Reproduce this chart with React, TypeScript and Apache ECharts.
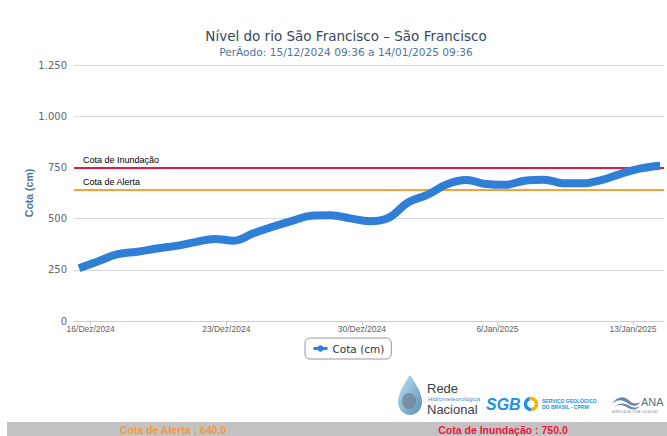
import React, { useEffect, useRef } from "react";
import * as echarts from "echarts";

const times = [
  "2024-12-15T09:36:00Z", "2024-12-16T09:36:00Z", "2024-12-17T09:36:00Z", "2024-12-18T09:36:00Z",
  "2024-12-19T09:36:00Z", "2024-12-20T09:36:00Z", "2024-12-21T09:36:00Z", "2024-12-22T09:36:00Z",
  "2024-12-23T09:36:00Z", "2024-12-24T09:36:00Z", "2024-12-25T09:36:00Z", "2024-12-26T09:36:00Z",
  "2024-12-27T09:36:00Z", "2024-12-28T09:36:00Z", "2024-12-29T09:36:00Z", "2024-12-30T09:36:00Z",
  "2024-12-31T09:36:00Z", "2025-01-01T09:36:00Z", "2025-01-02T09:36:00Z", "2025-01-03T09:36:00Z",
  "2025-01-04T09:36:00Z", "2025-01-05T09:36:00Z", "2025-01-06T09:36:00Z", "2025-01-07T09:36:00Z",
  "2025-01-08T09:36:00Z", "2025-01-09T09:36:00Z", "2025-01-10T09:36:00Z", "2025-01-11T09:36:00Z",
  "2025-01-12T09:36:00Z", "2025-01-13T09:36:00Z", "2025-01-14T09:36:00Z",
];
const cota = [
  257, 292, 326, 338, 354, 367, 385, 401, 392, 428, 460, 489, 514, 516, 501, 487,
  505, 580, 617, 668, 688, 669, 665, 685, 690, 673, 672, 689, 720, 745, 758,
];
const tickDates = [
  "2024-12-16T00:00:00Z", "2024-12-23T00:00:00Z", "2024-12-30T00:00:00Z",
  "2025-01-06T00:00:00Z", "2025-01-13T00:00:00Z",
];
const tickLabels = ["16/Dez/2024", "23/Dez/2024", "30/Dez/2024", "6/Jan/2025", "13/Jan/2025"];
const cotaAlerta = 640;
const cotaInundacao = 750;
const yMin = 0;
const yMax = 1250;
const yStep = 250;

const DAY = 86400000;

export default function App() {
  const ref = useRef<HTMLDivElement>(null);
  useEffect(() => {
    if (!ref.current) return;
    echarts.graphic.registerShape(
      "drop",
      echarts.graphic.extendPath(
        "M12,0 C12,0 0,16 0,27 C0,34 5.4,40 12,40 C18.6,40 24,34 24,27 C24,16 12,0 12,0 Z",
        {}
      )
    );
    echarts.graphic.registerShape(
      "wave",
      echarts.graphic.extendPath(
        "M0,12 C6,2 12,2 18,9 C22,13 26,12 28,10 C26,16 20,16 15,11 C10,6 5,7 0,12 Z M2,16 C8,10 13,11 18,15 C22,18 26,17 28,15 C25,21 19,20 14,16 C10,13 6,13 2,16 Z",
        {}
      )
    );
    const chart = echarts.init(ref.current, null, { renderer: "svg" });
    const tickTs = tickDates.map((d) => Date.parse(d));
    const ts = times.map((d) => Date.parse(d));
    const fmtY = (v: number) =>
      v >= 1000 ? Math.floor(v / 1000) + "." + String(v % 1000).padStart(3, "0") : String(v);
    const narrow = "'Liberation Sans Narrow', 'Liberation Sans', sans-serif";
    chart.setOption({
      animation: false,
      title: {
        text: "Nível do rio São Francisco – São Francisco",
        subtext: "PerÃodo: 15/12/2024 09:36 a 14/01/2025 09:36",
        left: 341,
        textAlign: "center",
        top: 24,
        itemGap: 3,
        textStyle: {
          fontFamily: "DejaVu Sans",
          fontSize: 13.5,
          fontWeight: "normal",
          color: "#34495e",
        },
        subtextStyle: {
          fontFamily: "DejaVu Sans",
          fontSize: 10.6,
          color: "#4d759e",
        },
      },
      legend: {
        left: 305,
        top: 338,
        padding: [5, 7, 5, 7],
        borderColor: "#999",
        borderWidth: 1,
        borderRadius: 5,
        itemWidth: 14,
        itemHeight: 8,
        textStyle: { fontFamily: "DejaVu Sans", fontSize: 10.5, color: "#333" },
        lineStyle: { width: 3 },
        data: ["Cota (cm)"],
      },
      grid: { left: 74, right: 3, top: 65, bottom: 115, containLabel: false },
      xAxis: {
        type: "value",
        min: ts[0] - 0.26 * DAY,
        max: ts[ts.length - 1] + 0.2 * DAY,
        axisLine: { show: true, onZero: false, lineStyle: { color: "#c0d0e0", width: 1 } },
        axisTick: { show: true, customValues: tickTs, length: 5, lineStyle: { color: "#c0d0e0" } },
        splitLine: { show: false },
        axisLabel: {
          customValues: tickTs,
          color: "#606060",
          fontSize: 8.5,
          fontFamily: narrow,
          margin: 3,
          formatter: (v: number) => {
            const i = tickTs.indexOf(v);
            return i >= 0 ? tickLabels[i] : "";
          },
        },
      },
      yAxis: {
        type: "value",
        min: yMin,
        max: yMax,
        interval: yStep,
        name: "Cota (cm)",
        nameLocation: "middle",
        nameGap: 40,
        nameMoveOverlap: false,
        nameTextStyle: {
          fontFamily: "Liberation Sans",
          fontWeight: "bold",
          fontSize: 10.5,
          color: "#4d759e",
        },
        axisLine: { show: false },
        axisTick: { show: false },
        splitLine: { lineStyle: { color: "#d8d8d8", width: 1 } },
        axisLabel: {
          color: "#666",
          fontFamily: "DejaVu Sans",
          fontSize: 10,
          margin: 7,
          formatter: fmtY,
        },
      },
      series: [
        {
          name: "Cota (cm)",
          type: "line",
          data: ts.map((t, i) => [t, cota[i]]),
          smooth: 0.4,
          symbol: "circle",
          symbolSize: 8,
          showSymbol: false,
          lineStyle: { color: "#2f7ed8", width: 8 },
          itemStyle: { color: "#2f7ed8" },
          z: 3,
          markLine: {
            silent: true,
            symbol: "none",
            z: 2,
            data: [
              {
                yAxis: cotaInundacao,
                name: "Cota de Inundação",
                lineStyle: { color: "#e8173e", width: 2, type: "solid" },
              },
              {
                yAxis: cotaAlerta,
                name: "Cota de Alerta",
                lineStyle: { color: "#f7a040", width: 2, type: "solid" },
              },
            ],
            label: {
              show: true,
              position: "insideStartTop",
              formatter: "{b}",
              fontFamily: "Liberation Sans",
              fontSize: 9,
              color: "#000",
              distance: [9, 3],
            },
          },
        },
      ],
      graphic: [
        {
          type: "rect",
          shape: { x: 7, y: 422, width: 660, height: 14 },
          style: { fill: "#c3c3c3" },
          silent: true,
        },
        {
          type: "text",
          x: 173,
          y: 430,
          style: {
            text: "Cota de Alerta : " + cotaAlerta.toFixed(1),
            fill: "#f5993b",
            font: "bold 10.5px " + narrow,
            align: "center",
            verticalAlign: "middle",
          },
        },
        {
          type: "text",
          x: 503,
          y: 430,
          style: {
            text: "Cota de Inundação : " + cotaInundacao.toFixed(1),
            fill: "#f0163f",
            font: "bold 10.5px " + narrow,
            align: "center",
            verticalAlign: "middle",
          },
        },
        {
          type: "drop",
          x: 398,
          y: 375,
          style: {
            fill: new echarts.graphic.LinearGradient(0, 0, 1, 1, [
              { offset: 0, color: "#bfe3f7" },
              { offset: 1, color: "#5a8fb8" },
            ]),
          },
        },
        {
          type: "ellipse",
          shape: { cx: 409, cy: 401, rx: 7, ry: 8 },
          style: { fill: "#6d7f8f", opacity: 0.7 },
        },
        {
          type: "text",
          x: 427,
          y: 388,
          style: {
            text: "Rede",
            fill: "#3a3f45",
            font: "13px " + narrow,
            verticalAlign: "middle",
          },
        },
        {
          type: "text",
          x: 428,
          y: 399,
          style: {
            text: "Hidrometeorológica",
            fill: "#3d8fd0",
            font: "6px " + narrow,
            verticalAlign: "middle",
          },
        },
        {
          type: "text",
          x: 427,
          y: 409,
          style: {
            text: "Nacional",
            fill: "#3a3f45",
            font: "13px " + narrow,
            verticalAlign: "middle",
          },
        },
        {
          type: "text",
          x: 486,
          y: 404,
          style: {
            text: "SGB",
            fill: "#1e90e6",
            font: "italic bold 16px 'Liberation Sans', sans-serif",
            verticalAlign: "middle",
          },
        },
        {
          type: "arc",
          shape: { cx: 531, cy: 404, r: 5.5, startAngle: -Math.PI * 0.6, endAngle: Math.PI * 0.5 },
          style: { stroke: "#f5b400", lineWidth: 3.5, fill: "none" },
        },
        {
          type: "arc",
          shape: { cx: 531, cy: 404, r: 5.5, startAngle: Math.PI * 0.5, endAngle: Math.PI * 1.4 },
          style: { stroke: "#1e90e6", lineWidth: 3.5, fill: "none" },
        },
        {
          type: "text",
          x: 542,
          y: 401,
          style: {
            text: "SERVIÇO GEOLÓGICO",
            fill: "#1e90e6",
            font: "bold 5px 'Liberation Sans', sans-serif",
            verticalAlign: "middle",
          },
        },
        {
          type: "text",
          x: 542,
          y: 406.5,
          style: {
            text: "DO BRASIL - CPRM",
            fill: "#1e90e6",
            font: "bold 5px 'Liberation Sans', sans-serif",
            verticalAlign: "middle",
          },
        },
        {
          type: "wave",
          x: 612,
          y: 394,
          scaleX: 1,
          scaleY: 0.8,
          style: { fill: "#6a86a8" },
        },
        {
          type: "text",
          x: 641,
          y: 402,
          style: {
            text: "ANA",
            fill: "#5e7087",
            font: "11px 'Liberation Sans', sans-serif",
            verticalAlign: "middle",
          },
        },
        {
          type: "text",
          x: 612,
          y: 411.5,
          style: {
            text: "AGÊNCIA NACIONAL DE ÁGUAS",
            fill: "#8a9aae",
            font: "3px 'Liberation Sans', sans-serif",
            verticalAlign: "middle",
          },
        },
      ],
    });
    return () => chart.dispose();
  }, []);
  return (
    <div
      ref={ref}
      style={{ position: "absolute", left: 0, top: 0, width: 667, height: 436 }}
    />
  );
}
